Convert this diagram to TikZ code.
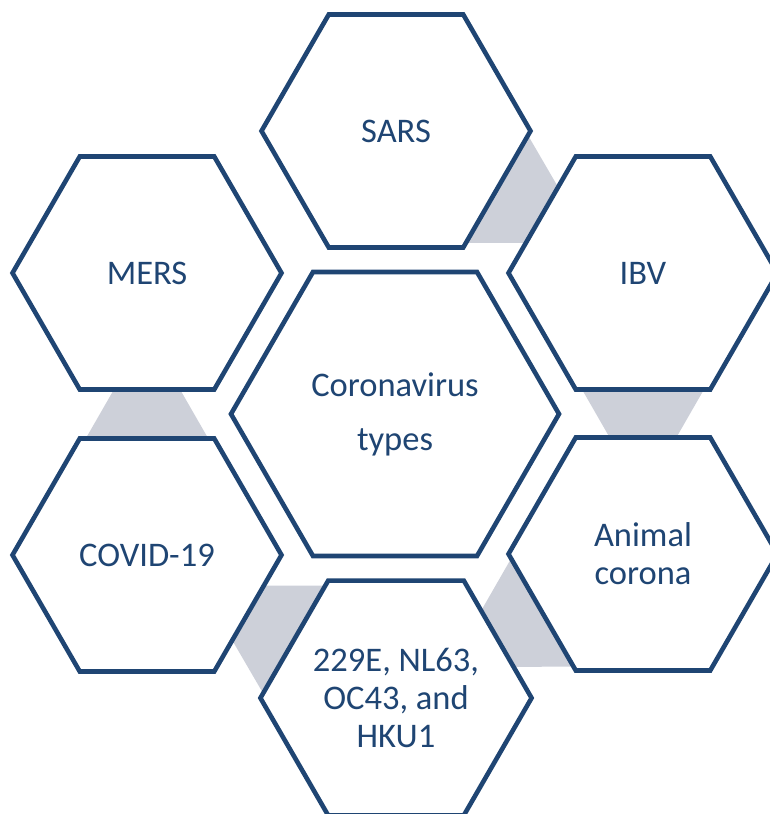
\documentclass[tikz,border=0pt]{standalone}
\usepackage{fontspec}
\setmainfont{Carlito}
\usetikzlibrary{shapes.geometric, calc, backgrounds}
\definecolor{hexblue}{HTML}{1F4573}
\definecolor{linkgray}{HTML}{CDD0D9}

\tikzset{
  hexcell/.style={draw=hexblue, line width=4.6pt, fill=white, regular polygon, regular polygon sides=6,
    minimum size=269pt, inner sep=0pt, text=hexblue, align=center, font=\fontsize{34.5}{38}\selectfont},
  hexhub/.style={hexcell, minimum size=328pt},
  hexlink/.style={fill=linkgray}
}

\begin{document}
\begin{tikzpicture}[x=1pt, y=-1pt]
  \useasboundingbox (0,0) rectangle (770,814);
  \clip (0,0) rectangle (770,814);

  % centre hexagon
  \node[hexhub] (hub) at (395,414) {Coronavirus\\[16pt]types};

  % outer ring, clockwise from the top
  \node[hexcell] (sars)   at (396,131) {SARS};
  \node[hexcell] (ibv)    at (643,273) {IBV};
  \node[hexcell] (animal) at (643,554) {Animal\\corona};
  \node[hexcell] (hcov)   at (396,698) {229E, NL63,\\OC43, and\\HKU1};
  \node[hexcell] (covid)  at (147,555) {COVID-19};
  \node[hexcell] (mers)   at (147,273) {MERS};

  % grey links between neighbours
  \begin{scope}[on background layer]
    \foreach \a/\b in {sars/ibv, ibv/animal, animal/hcov, hcov/covid, covid/mers}{
      \coordinate (m) at ($(\a)!0.5!(\b)$);
      \coordinate (tip) at ($(m)!82pt!(\b)$);
      \coordinate (base) at ($(m)!78pt!(\a)$);
      \fill[hexlink] (tip) -- ($(base)!92pt!90:(m)$) -- ($(base)!92pt!-90:(m)$) -- cycle;
    }
  \end{scope}
\end{tikzpicture}
\end{document}
